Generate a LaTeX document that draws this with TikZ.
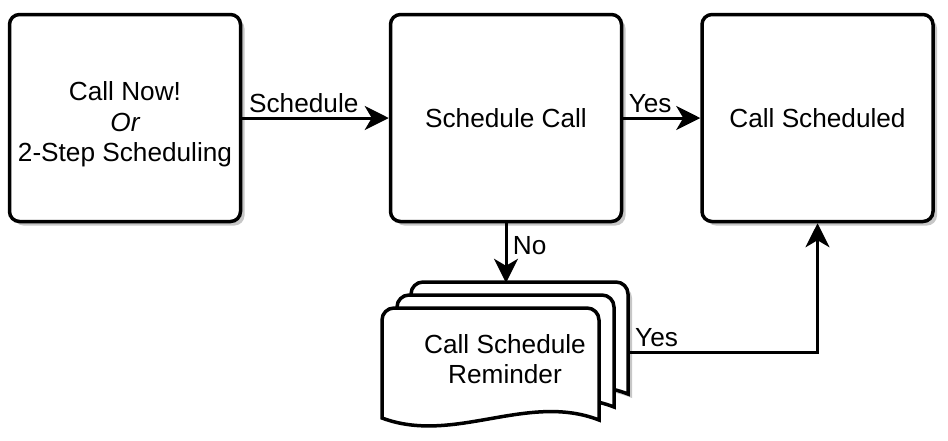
\documentclass[tikz,border=0pt]{standalone}
\usepackage{fontspec}
\setmainfont{Liberation Sans}
\usepackage{tikz}
\usetikzlibrary{arrows.meta, shadows}

% one page of the reminder stack, top left corner at (#1,#2)
\newcommand{\docpage}[3][]{%
  \draw[page, #1] (#2,#3+110) -- (#2,#3+12)
    arc[start angle=180, end angle=270, radius=12] -- (#2+205,#3)
    arc[start angle=270, end angle=360, radius=12] -- (#2+217,#3+112)
    .. controls (#2+145,#3+84) and (#2+72,#3+137) .. (#2,#3+110) -- cycle;}

\begin{document}
\begin{tikzpicture}[x=1pt, y=-1pt,
  every node/.style={font=\fontsize{26.2}{30.5}\selectfont},
  boxshadow/.style={drop shadow={shadow xshift=4pt, shadow yshift=-4pt, fill=black!22, opacity=1}},
  box/.style={draw, line width=3.5pt, rounded corners=10pt, fill=white, align=center,
    text depth=-4pt, minimum width=231pt, minimum height=207pt, boxshadow},
  page/.style={draw, line width=3.5pt, fill=white},
  arr/.style={line width=3pt, -{Stealth[length=24pt, width=24pt, inset=7pt]}}]
  \useasboundingbox (0,0) rectangle (948,440);

  \node[box] (now) at (125,118) {\rule{0pt}{26pt}Call Now!\\{\itshape Or}\\2-Step Scheduling};
  \node[box] (sched) at (506,118) {Schedule Call};
  \node[box] (done) at (817.5,118) {Call Scheduled};

  % reminder stack
  \docpage[boxshadow]{411}{282}
  \docpage{397}{295}
  \docpage{382}{308}
  \node[align=center, minimum width=246pt, minimum height=152pt] (remind) at (505,359)
    {Call Schedule\\Reminder};

  \draw[arr] (now) -- node[above, pos=0.42] {Schedule} (sched);
  \draw[arr] (sched) -- node[above, pos=0.35] {Yes} (done);
  \draw[arr] (sched.south) -- node[right, pos=0.38, xshift=2pt] {No} (sched.south |- remind.north);
  \draw[arr] ([yshift=7pt]remind.east) -| node[above, pos=0.075] {Yes} (done.south);
\end{tikzpicture}
\end{document}
